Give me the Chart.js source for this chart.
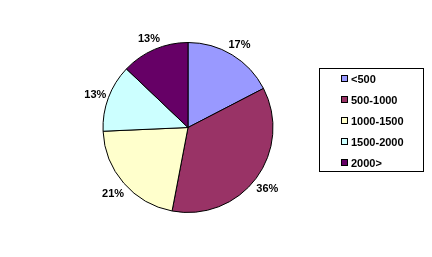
<!DOCTYPE html>
<html>
<head>
<meta charset="utf-8">
<script src="https://cdn.jsdelivr.net/npm/chart.js@4/dist/chart.umd.min.js"></script>
<style>
  html, body { margin: 0; padding: 0; background: #fff; }
  canvas { display: block; }
</style>
</head>
<body>
<canvas id="pieChart" width="432" height="257"></canvas>
<script>
// categories and slice shares
const categories = ['<500', '500-1000', '1000-1500', '1500-2000', '2000>'];
const shares = [17.4, 35.6, 21.3, 12.8, 12.9];
const sliceColors = ['#9999FF', '#993366', '#FFFFCC', '#CCFFFF', '#660066'];

const labelFont = 'bold 11px "Liberation Sans", Arial, sans-serif';

// percentage labels just outside each slice
const outsideLabels = {
    id: 'outsideLabels',
    afterDatasetsDraw(chart) {
        const ctx = chart.ctx;
        const meta = chart.getDatasetMeta(0);
        const total = shares.reduce((s, v) => s + v, 0);
        ctx.save();
        ctx.font = labelFont;
        ctx.fillStyle = '#000';
        ctx.textAlign = 'center';
        ctx.textBaseline = 'middle';
        meta.data.forEach((arc, i) => {
            const { x, y, startAngle, endAngle, outerRadius } = arc.getProps(['x', 'y', 'startAngle', 'endAngle', 'outerRadius'], true);
            const mid = (startAngle + endAngle) / 2;
            const r = outerRadius + 14;
            const txt = Math.round(shares[i] / total * 100) + '%';
            ctx.fillText(txt, x + Math.cos(mid) * r, y + Math.sin(mid) * r + 2);
        });
        ctx.restore();
    }
};

// boxed legend on the right, like the spreadsheet one
const boxLegend = {
    id: 'boxLegend',
    afterDraw(chart) {
        const ctx = chart.ctx;
        const left = 319.5, top = 68.5, w = 104, h = 103;
        ctx.save();
        ctx.strokeStyle = '#000';
        ctx.lineWidth = 1;
        ctx.strokeRect(left, top, w, h);
        ctx.font = labelFont;
        ctx.textBaseline = 'middle';
        ctx.textAlign = 'left';
        categories.forEach((cat, i) => {
            const cy = 79 + i * 21;
            ctx.fillStyle = sliceColors[i];
            ctx.fillRect(341.5, cy - 3.5, 6, 6);
            ctx.strokeRect(341.5, cy - 3.5, 6, 6);
            ctx.fillStyle = '#000';
            ctx.fillText(cat, 351, cy + 0.5);
        });
        ctx.restore();
    }
};

new Chart(document.getElementById('pieChart').getContext('2d'), {
    type: 'pie',
    data: {
        labels: categories,
        datasets: [{
            data: shares,
            backgroundColor: sliceColors,
            borderColor: '#000',
            borderWidth: 1
        }]
    },
    options: {
        responsive: false,
        animation: false,
        layout: { padding: { left: 102.5, top: 42, right: 158.5, bottom: 44 } },
        plugins: {
            legend: { display: false },
            tooltip: { enabled: false }
        }
    },
    plugins: [outsideLabels, boxLegend]
});
</script>
</body>
</html>
